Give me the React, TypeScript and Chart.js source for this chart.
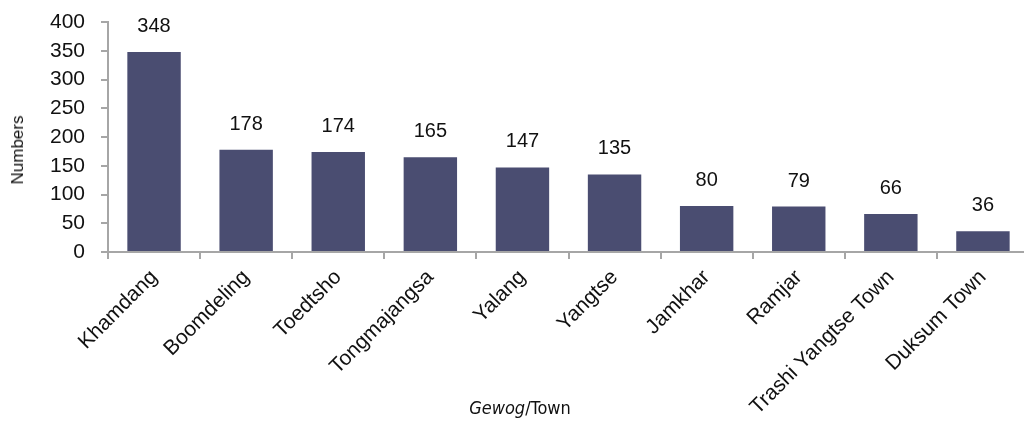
import React, { useEffect, useRef } from "react";
import { Chart, registerables } from "chart.js";

Chart.register(...registerables);

const categories = [
  "Khamdang",
  "Boomdeling",
  "Toedtsho",
  "Tongmajangsa",
  "Yalang",
  "Yangtse",
  "Jamkhar",
  "Ramjar",
  "Trashi Yangtse Town",
  "Duksum Town",
];
const values = [348, 178, 174, 165, 147, 135, 80, 79, 66, 36];
const yTicks = [0, 50, 100, 150, 200, 250, 300, 350, 400];

const BAR = "#4a4d71";
const AXIS = "#a6a6a6";
const FONT = "'Liberation Sans', Arial, sans-serif";
const NARROW = "'DejaVu Sans Condensed', 'Liberation Sans', sans-serif";

const labelPlugin = {
  id: "barLabels",
  afterDatasetsDraw(chart: any) {
    const ctx = chart.ctx;
    const meta = chart.getDatasetMeta(0);
    ctx.save();
    ctx.font = `20px ${FONT}`;
    ctx.fillStyle = "#111";
    ctx.textAlign = "center";
    ctx.textBaseline = "alphabetic";
    meta.data.forEach((el: any, i: number) => {
      ctx.fillText(String(values[i]), el.x, el.y - 20);
    });
    ctx.restore();
  },
};

export default function App() {
  const ref = useRef<HTMLCanvasElement>(null);
  useEffect(() => {
    if (!ref.current) return;
    const chart = new Chart(ref.current, {
      type: "bar",
      data: {
        labels: categories,
        datasets: [
          {
            data: values,
            backgroundColor: BAR,
            borderWidth: 0,
            categoryPercentage: 1,
            barPercentage: 0.58,
          },
        ],
      },
      options: {
        animation: false,
        responsive: false,
        maintainAspectRatio: false,
        layout: { padding: { top: 22, left: 0, right: 0, bottom: 0 } },
        plugins: { legend: { display: false }, tooltip: { enabled: false } },
        scales: {
          x: {
            afterFit: (s: any) => {
              s.height = 169;
              s.paddingLeft = 0;
              s.paddingRight = 0;
            },
            grid: {
              display: true,
              drawOnChartArea: false,
              drawTicks: true,
              tickLength: 7,
              color: AXIS,
              lineWidth: 2,
              offset: true,
            },
            border: { display: true, color: AXIS, width: 2 },
            ticks: {
              autoSkip: false,
              maxRotation: 45,
              minRotation: 45,
              padding: 6,
              color: "#111",
              font: { family: FONT, size: 21 },
            },
          },
          y: {
            min: 0,
            max: 400,
            afterFit: (s: any) => {
              s.width = 108;
              s.paddingTop = 0;
              s.paddingBottom = 0;
            },
            afterBuildTicks: (s: any) => {
              s.ticks = yTicks.map((v) => ({ value: v }));
            },
            grid: {
              display: true,
              drawOnChartArea: false,
              drawTicks: true,
              tickLength: 7,
              color: AXIS,
              lineWidth: 2,
            },
            border: { display: true, color: AXIS, width: 2 },
            ticks: {
              padding: 16,
              color: "#111",
              font: { family: FONT, size: 21 },
            },
            title: { display: false },
          },
        },
      },
      plugins: [labelPlugin],
    });
    return () => chart.destroy();
  }, []);

  return (
    <div
      style={{
        position: "absolute",
        left: 0,
        top: 0,
        width: 1024,
        height: 421,
        overflow: "hidden",
      }}
    >
      <canvas ref={ref} width={1029} height={421} style={{ display: "block" }} />
      <div
        style={{
          position: "absolute",
          left: 18,
          top: 150,
          transform: "translate(-50%, -50%) rotate(-90deg)",
          whiteSpace: "nowrap",
          fontFamily: FONT,
          fontSize: 17,
          lineHeight: "20px",
          color: "#111",
        }}
      >
        Numbers
      </div>
      <div
        style={{
          position: "absolute",
          left: 0,
          width: 1040,
          top: 398,
          textAlign: "center",
          fontFamily: NARROW,
          fontSize: 18,
          color: "#111",
          lineHeight: "20px",
        }}
      >
        <i>Gewog</i>/Town
      </div>
    </div>
  );
}
